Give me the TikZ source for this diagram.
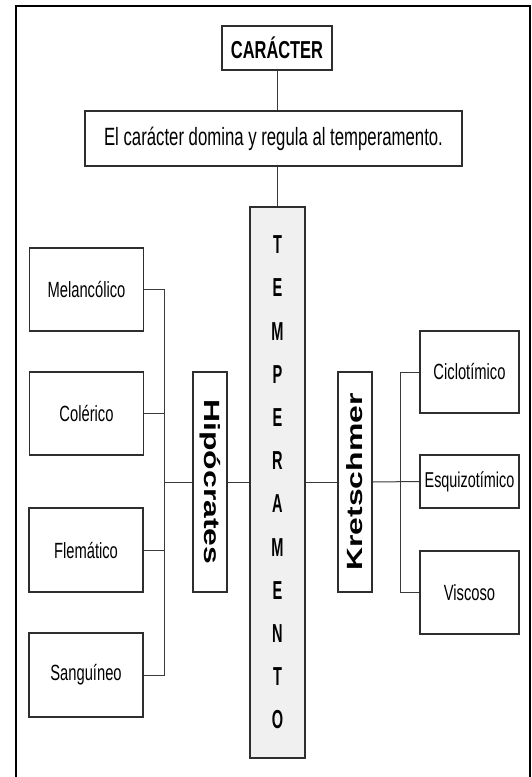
\documentclass[tikz,border=0pt]{standalone}
\usepackage{fontspec}
\usepackage{graphicx}
\newfontfamily\nf{Liberation Sans}[FakeStretch=0.67]
\newfontfamily\tf{Liberation Sans}[FakeStretch=0.56]
\newfontfamily\wf{Liberation Sans}[FakeStretch=1.45]
\definecolor{boxline}{HTML}{2E2E2E}
\definecolor{conline}{HTML}{3A3A3A}
\definecolor{tempfill}{HTML}{F0F0F0}
\tikzset{
  box/.style={draw=boxline, line width=1.2pt, fill=white, inner sep=0pt, anchor=center},
  catbox/.style={box, minimum width=114pt, minimum height=83pt, font=\nf\fontsize{22}{24}\selectfont},
  rbox/.style={box, minimum width=99pt, font=\nf\fontsize{22}{24}\selectfont},
  sidebox/.style={box, minimum width=34pt, minimum height=220pt},
  con/.style={draw=conline, line width=1pt}
}
\begin{document}
\begin{tikzpicture}[x=1pt,y=-1pt]
\useasboundingbox (0,0) rectangle (532,777);
\fill[white] (0,0) rectangle (532,777);
% outer frame
\draw[black, line width=2pt] (16,790) -- (16,5.5) -- (530,5.5) -- (530,790);

\node[box, minimum width=110pt, minimum height=44pt, font=\nf\bfseries\fontsize{24.5}{26}\selectfont] (car) at (277,48) {CARÁCTER};
\node[box, minimum width=377pt, minimum height=55pt, font=\nf\fontsize{25}{28}\selectfont] (sent) at (273.5,138.5) {El carácter domina y regula al temperamento.};
\node[box, fill=tempfill, minimum width=55pt, minimum height=551pt, align=center, font=\tf\bfseries\fontsize{26}{43.2}\selectfont] (temp) at (277.5,482.5) {T\\E\\M\\P\\E\\R\\A\\M\\E\\N\\T\\O};

\node[sidebox] (hip) at (210,482) {\rotatebox{-90}{\wf\bfseries\fontsize{22}{24}\selectfont Hipócrates}};
\node[sidebox] (kre) at (355,482) {\rotatebox{90}{\wf\bfseries\fontsize{22}{24}\selectfont Kretschmer}};

\node[catbox] (mel) at (86.5,289.5) {Melancólico};
\node[catbox] (col) at (86.5,413.5) {Colérico};
\node[catbox, minimum height=84pt] (fle) at (86,550) {Flemático};
\node[catbox, minimum height=84pt] (san) at (86,675) {Sanguíneo};

\node[rbox, minimum height=82pt] (cic) at (469.5,372) {Ciclotímico};
\node[rbox, minimum height=53pt, font=\nf\fontsize{21.5}{24}\selectfont] (esq) at (469.5,481.5) {Esquizotímico};
\node[rbox, minimum height=83pt] (vis) at (469.5,592.5) {Viscoso};

\coordinate (hl) at (164,482);
\coordinate (hr) at (400,482);

% connectors
\draw[con] (car.south) -- (car.south |- sent.north);
\draw[con] (temp.north |- sent.south) -- (temp.north);
\draw[con] (mel.east) -- (mel.east -| hl) -- (san.east -| hl) -- (san.east);
\draw[con] (col.east) -- (col.east -| hl);
\draw[con] (fle.east) -- (fle.east -| hl);
\draw[con] (hl) -- (hip.west);
\draw[con] (hip.east) -- (temp.west |- hip.east);
\draw[con] (temp.east |- kre.west) -- (kre.west);
\draw[con] (kre.east) -- (esq.west);
\draw[con] (cic.west) -- (cic.west -| hr) -- (vis.west -| hr) -- (vis.west);
\end{tikzpicture}
\end{document}
